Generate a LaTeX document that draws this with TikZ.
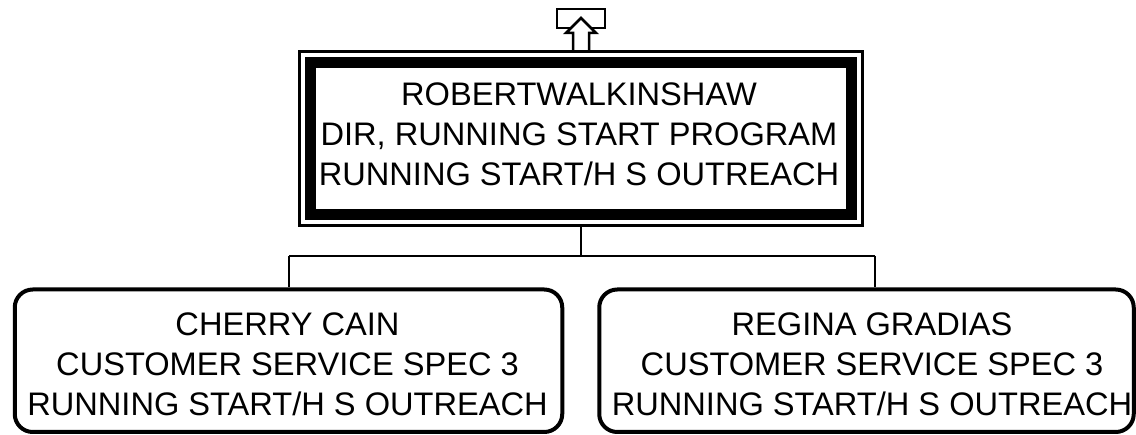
\documentclass[tikz,border=0pt]{standalone}
\usepackage{fontspec}
\setmainfont{Liberation Sans}
\usetikzlibrary{calc}
\begin{document}
\begin{tikzpicture}[x=1pt,y=-1pt,
  txt/.style={align=center, inner sep=0pt, font=\fontsize{32.6}{40}\selectfont},
  frame/.style={draw, line width=3.5pt, inner sep=0pt},
  thickbox/.style={draw, line width=11pt, inner sep=0pt},
  roundbox/.style={draw, line width=4pt, rounded corners=18pt, inner sep=0pt},
  conn/.style={draw, line width=2pt},
  icon/.style={draw, line width=2.5pt, fill=white}]
\useasboundingbox (0,0) rectangle (1136,435);
% top box
\node[frame, minimum width=563pt, minimum height=174pt] (topframe) at (581,138.5) {};
\node[thickbox, minimum width=541pt, minimum height=152pt] (top) at (581,138.5) {};
\node[txt] (toptext) at (579,134) {ROBERTWALKINSHAW\\DIR, RUNNING START PROGRAM\\RUNNING START/H S OUTREACH};
% bottom boxes
\node[roundbox, minimum width=547.5pt, minimum height=142.5pt] (left) at (288.5,360.75) {};
\node[txt] (lefttext) at (287.5,364) {CHERRY CAIN\\CUSTOMER SERVICE SPEC 3\\RUNNING START/H S OUTREACH};
\node[roundbox, minimum width=534.5pt, minimum height=142.5pt] (right) at (866.5,360.75) {};
\node[txt] (righttext) at (872,364) {REGINA GRADIAS\\CUSTOMER SERVICE SPEC 3\\RUNNING START/H S OUTREACH};
% connectors
\coordinate (bus) at (581,256);
\coordinate (ldrop) at (289,256);
\coordinate (rdrop) at (875,256);
\draw[conn] (topframe.south) -- (bus);
\draw[conn] (ldrop) -- (rdrop);
\draw[conn] (ldrop) -- (ldrop |- left.north);
\draw[conn] (rdrop) -- (rdrop |- right.north);
% up icon
\draw[line width=2.5pt] (557,9) rectangle (605,28);
\draw[icon] (573,50) -- (573,33) -- (566,33) -- (581,18) -- (596,33) -- (589,33) -- (589,50);
\end{tikzpicture}
\end{document}
